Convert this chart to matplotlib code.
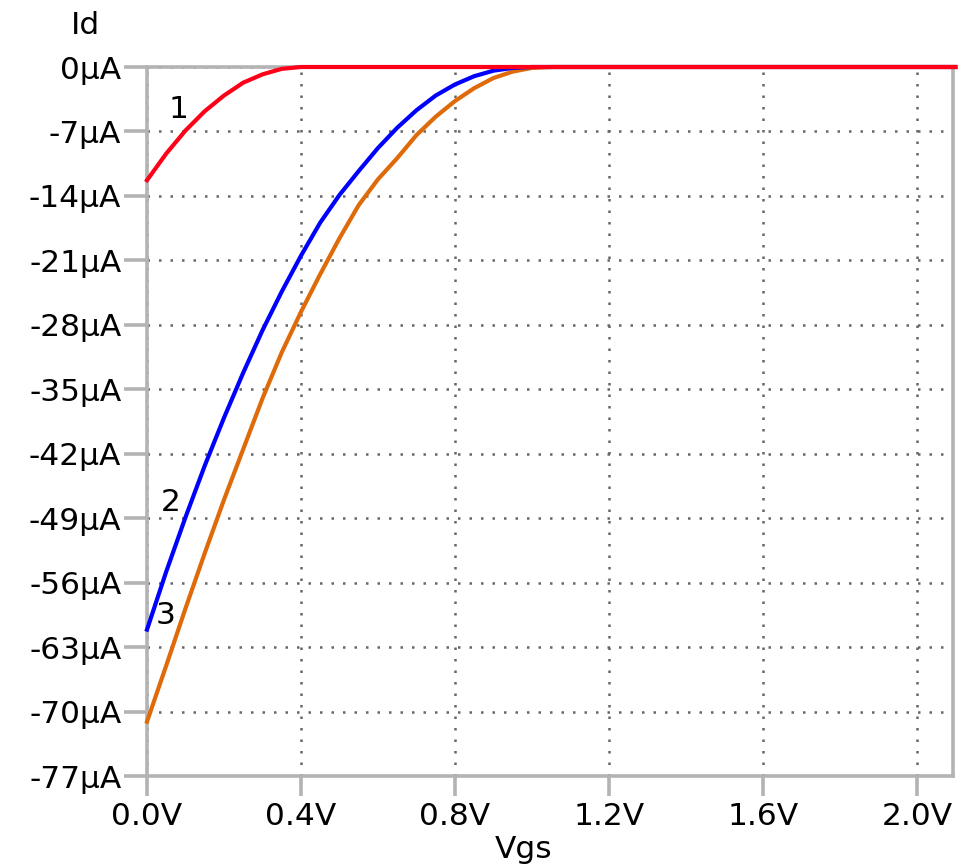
import matplotlib
matplotlib.use("Agg")
import matplotlib.pyplot as plt
from matplotlib.ticker import FixedLocator

# Data
vgs_1 = [0.0, 0.05, 0.10, 0.15, 0.20, 0.25, 0.30, 0.35, 0.40, 2.1]
id_1 = [-12.3, -9.4, -6.9, -4.8, -3.1, -1.7, -0.8, -0.2, 0.0, 0.0]

vgs_2 = [0.0, 0.05, 0.10, 0.15, 0.20, 0.25, 0.30, 0.35, 0.40, 0.45, 0.50,
         0.55, 0.60, 0.65, 0.70, 0.75, 0.80, 0.85, 0.90, 0.95, 1.0, 2.1]
id_2 = [-61.1, -54.8, -48.9, -43.3, -38.1, -33.2, -28.6, -24.4, -20.5, -16.9, -13.9,
        -11.3, -8.8, -6.6, -4.7, -3.1, -1.9, -1.0, -0.4, -0.1, 0.0, 0.0]

vgs_3 = [0.0, 0.05, 0.10, 0.15, 0.20, 0.25, 0.30, 0.35, 0.40, 0.45, 0.50,
         0.55, 0.60, 0.65, 0.70, 0.75, 0.80, 0.85, 0.90, 0.95, 1.0, 1.05, 2.1]
id_3 = [-71.1, -65.0, -58.8, -52.8, -47.0, -41.5, -36.0, -31.0, -26.6, -22.5, -18.6,
        -15.0, -12.2, -9.9, -7.4, -5.4, -3.7, -2.3, -1.2, -0.5, -0.1, 0.0, 0.0]

x_ticks = [0.0, 0.4, 0.8, 1.2, 1.6, 2.0]
x_tick_labels = ["0.0V", "0.4V", "0.8V", "1.2V", "1.6V", "2.0V"]
y_ticks = [0, -7, -14, -21, -28, -35, -42, -49, -56, -63, -70, -77]
y_tick_labels = ["0µA", "-7µA", "-14µA", "-21µA", "-28µA", "-35µA", "-42µA",
                 "-49µA", "-56µA", "-63µA", "-70µA", "-77µA"]

W, H = 961, 866
FS = 22.5
fig = plt.figure(figsize=(W / 100, H / 100), dpi=100)
ax = fig.add_axes([147 / W, 1 - 776 / H, (953 - 147) / W, (776 - 67) / H])

gray = "#b3b3b3"
ax.plot(vgs_3, id_3, color="#df6a0a", lw=3.0, zorder=3, clip_on=False)
ax.plot(vgs_2, id_2, color="#0000ff", lw=3.0, zorder=4, clip_on=False)
ax.plot(vgs_1, id_1, color="#ff0018", lw=3.0, zorder=5, clip_on=False)

ax.set_xlim(0, 2.094)
ax.set_ylim(-77, 0)
ax.xaxis.set_major_locator(FixedLocator(x_ticks))
ax.yaxis.set_major_locator(FixedLocator(y_ticks))
ax.set_xticklabels(x_tick_labels)
ax.set_yticklabels(y_tick_labels)

for s in ax.spines.values():
    s.set_color(gray)
    s.set_linewidth(2.6)
    s.set_zorder(2)

ax.tick_params(axis="both", direction="out", width=2.6, color=gray,
               labelsize=FS, labelcolor="black")
ax.tick_params(axis="y", length=16.5, pad=2)
ax.tick_params(axis="x", length=14.5, pad=4)

ax.grid(True, color="#666666", linestyle=(0, (1, 3.6)), linewidth=1.8, zorder=1)
ax.set_axisbelow(True)

fig.text(86 / W, 1 - 25 / H, "Id", fontsize=FS, ha="center", va="center")
fig.text(524 / W, 1 - 849 / H, "Vgs", fontsize=FS, ha="center", va="center")

ax.text(0.083, -4.6, "1", fontsize=FS, ha="center", va="center")
ax.text(0.062, -47.3, "2", fontsize=FS, ha="center", va="center")
ax.text(0.049, -59.6, "3", fontsize=FS, ha="center", va="center")

fig.savefig("out.png", dpi=100)
